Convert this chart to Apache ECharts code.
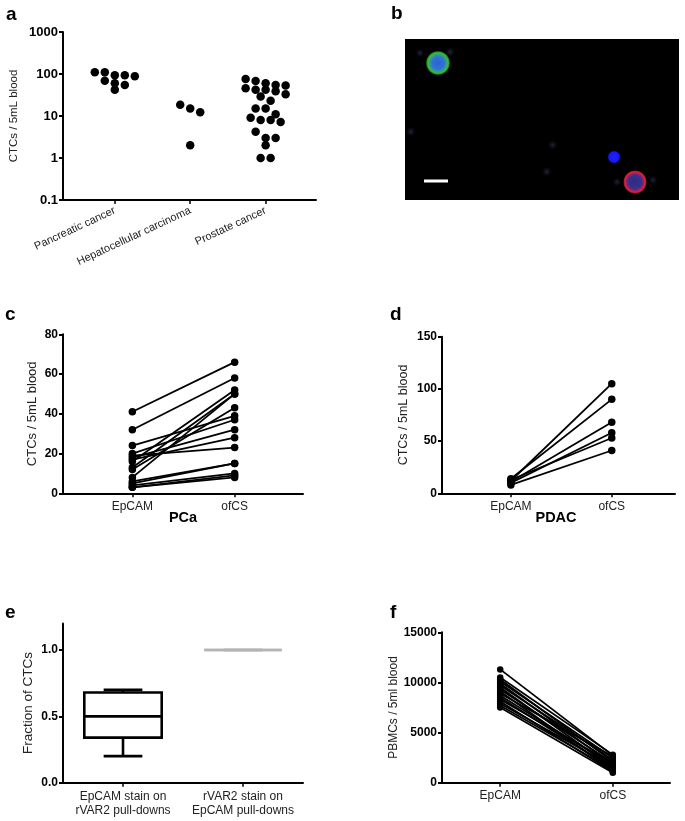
<!DOCTYPE html>
<html><head><meta charset="utf-8">
<script src="https://cdn.jsdelivr.net/npm/echarts@6/dist/echarts.min.js"></script>
<style>html,body{margin:0;padding:0;background:#fff}#main{width:685px;height:821px}</style>
</head><body><div id="main"></div>
<script>
// ---------- Panel a: CTCs per 5 mL blood (log scale) ----------
const aCategories = ['Pancreatic cancer', 'Hepatocellular carcinoma', 'Prostate cancer'];
const aPancreatic = [110, 110, 93, 93, 89, 69, 60, 55, 42];
const aHepatocellular = [18.6, 15, 12.3, 2];
const aProstate = [76, 68, 60, 55, 53, 46, 42, 42, 39, 33, 29, 23, 15, 15, 11, 9.1, 8, 8, 7.2, 4.2, 3, 3, 2, 1, 1];
const aTicks = [0.1, 1, 10, 100, 1000];

// ---------- Panel b: fluorescence image (image units 274 x 161) ----------
const bCells = [[33, 24, 25], [209, 118, 14], [230, 143, 24], [5.7, 92.7, 10], [147.7, 106, 10], [141.7, 132.7, 10], [45, 13, 10], [15, 14, 9], [212, 143, 9], [248, 141, 9]];
const bCellTypes = ['green', 'blue', 'red', 'faint', 'faint', 'faint', 'faint', 'faint', 'faint', 'faint'];
const bScaleBar = [[19, 142], [43, 142]];

// ---------- Panel c: PCa paired ----------
const pairCategories = ['EpCAM', 'ofCS'];
const cEpCAM = [41, 32, 24, 20, 19, 18, 17, 16, 13, 12, 8, 6, 5, 4, 3, 3];
const cOfCS  = [66, 58, 39, 37, 23, 32, 28, 52, 50, 43, 50, 15, 15, 10, 9, 8];
const cTicks = [0, 20, 40, 60, 80];

// ---------- Panel d: PDAC paired ----------
const dEpCAM = [12, 14, 11, 10, 13, 8];
const dOfCS  = [105, 90, 68, 58, 53, 41];
const dTicks = [0, 50, 100, 150];

// ---------- Panel e: box plot ----------
const eCategories = ['EpCAM stain on\nrVAR2 pull-downs', 'rVAR2 stain on\nEpCAM pull-downs'];
const eBoxes = [[0.2, 0.34, 0.5, 0.68, 0.7], [1, 1, 1, 1, 1]];
const eTicks = [0, 0.5, 1];

// ---------- Panel f: PBMCs paired ----------
const fEpCAM = [11300, 10500, 10300, 10100, 9900, 9700, 9500, 9300, 9100, 8900, 8700, 8500, 8300, 8100, 7900, 7700, 7500];
const fOfCS  = [2700, 2800, 2100, 2500, 1800, 2300, 1500, 2000, 1200, 2600, 1700, 1400, 1900, 1100, 1600, 1300, 1000];
const fTicks = [0, 5000, 10000, 15000];

const FONT = 'Liberation Sans, Arial, Helvetica, sans-serif';

function makeYAxis(g, o) {
  return {
    gridIndex: g, type: o.type || 'value', min: o.min, max: o.max, logBase: 10,
    axisLine: {show: true, onZero: false, lineStyle: {color: '#000', width: 2}},
    axisTick: {show: true, length: 4, customValues: o.ticks, lineStyle: {color: '#000', width: 2}},
    splitLine: {show: false}, minorTick: {show: false},
    axisLabel: {show: true, customValues: o.ticks, formatter: o.fmt || (v => String(+(+v).toPrecision(4))),
      color: '#000', fontWeight: 'bold', fontSize: o.fs || 12, margin: 5, fontFamily: FONT},
    name: o.name, nameLocation: 'middle', nameGap: o.gap,
    nameTextStyle: {color: '#222', fontSize: o.nfs || 12, fontFamily: FONT}
  };
}
function makeXAxis(g, o) {
  return {
    gridIndex: g, type: 'value', min: o.min, max: o.max,
    axisLine: {show: true, onZero: false, lineStyle: {color: '#000', width: 2}},
    axisTick: {show: true, length: 4, customValues: o.ticks, lineStyle: {color: '#000', width: 1.5}},
    splitLine: {show: false},
    axisLabel: {show: true, customValues: o.ticks, formatter: v => o.names[Math.round(v)] || '',
      color: '#222', fontSize: o.fs || 12, margin: o.margin || 7, rotate: o.rotate || 0, fontFamily: FONT}
  };
}
function pairSeries(g, ep, of, size, prefix) {
  return ep.map((e, i) => ({
    id: prefix + i, type: 'line', xAxisIndex: g, yAxisIndex: g,
    data: [[0, e], [1, of[i]]], symbol: 'circle', symbolSize: size, showSymbol: true,
    itemStyle: {color: '#000', opacity: 1}, lineStyle: {color: '#000', width: 1.8}, animation: false, silent: true
  }));
}

const cellFill = {
  green: new echarts.graphic.RadialGradient(0.5, 0.5, 0.5, [
    {offset: 0, color: '#2b62d8'}, {offset: 0.5, color: '#2f74d4'}, {offset: 0.68, color: '#3a9a86'},
    {offset: 0.8, color: '#2fc238'}, {offset: 0.9, color: '#1f8f25'}, {offset: 1, color: 'rgba(10,40,10,0)'}]),
  blue: new echarts.graphic.RadialGradient(0.5, 0.5, 0.5, [
    {offset: 0, color: '#2020ff'}, {offset: 0.75, color: '#1818f0'}, {offset: 1, color: 'rgba(0,0,90,0)'}]),
  red: new echarts.graphic.RadialGradient(0.5, 0.5, 0.5, [
    {offset: 0, color: '#2c2c86'}, {offset: 0.55, color: '#39308a'}, {offset: 0.74, color: '#a02060'},
    {offset: 0.84, color: '#e82038'}, {offset: 0.93, color: '#901828'}, {offset: 1, color: 'rgba(60,0,0,0)'}]),
  faint: new echarts.graphic.RadialGradient(0.5, 0.5, 0.5, [
    {offset: 0, color: 'rgba(60,60,95,0.6)'}, {offset: 1, color: 'rgba(30,30,60,0)'}])
};

const dotStyle = {color: '#000', opacity: 1};

const option = {
  animation: false,
  backgroundColor: '#fff',
  textStyle: {fontFamily: FONT},
  grid: [
    {left: 63, top: 32, width: 253, height: 168, outerBoundsMode: 'none'},
    {left: 405, top: 39, width: 274, height: 161, show: true, backgroundColor: '#000', borderWidth: 0, outerBoundsMode: 'none'},
    {left: 63, top: 334.3, width: 240, height: 159, outerBoundsMode: 'none'},
    {left: 442, top: 336.7, width: 233, height: 156.6, outerBoundsMode: 'none'},
    {left: 63, top: 623.5, width: 240, height: 159.2, outerBoundsMode: 'none'},
    {left: 442, top: 632.3, width: 228, height: 150.4, outerBoundsMode: 'none'}
  ],
  xAxis: [
    makeXAxis(0, {min: -0.687, max: 2.668, ticks: [0, 1, 2], names: aCategories, rotate: 25, fs: 11, margin: 10}),
    {gridIndex: 1, type: 'value', min: 0, max: 274, show: false},
    makeXAxis(2, {min: -0.678, max: 1.668, ticks: [0, 1], names: pairCategories}),
    makeXAxis(3, {min: -0.683, max: 1.627, ticks: [0, 1], names: pairCategories}),
    {gridIndex: 4, type: 'category', data: eCategories, boundaryGap: true,
      axisLine: {show: true, onZero: false, lineStyle: {color: '#000', width: 2}},
      axisTick: {show: true, alignWithLabel: true, length: 4, lineStyle: {color: '#000', width: 1.5}},
      axisLabel: {color: '#222', fontSize: 12, margin: 7, lineHeight: 14, fontFamily: FONT, interval: 0}},
    makeXAxis(5, {min: -0.517, max: 1.508, ticks: [0, 1], names: pairCategories})
  ],
  yAxis: [
    makeYAxis(0, {type: 'log', min: 0.1, max: 1000, ticks: aTicks, name: 'CTCs / 5mL blood', gap: 43, fs: 13, nfs: 11.5}),
    {gridIndex: 1, type: 'value', min: 0, max: 161, inverse: true, show: false},
    makeYAxis(2, {min: 0, max: 80, ticks: cTicks, name: 'CTCs / 5mL blood', gap: 24, nfs: 13}),
    makeYAxis(3, {min: 0, max: 150, ticks: dTicks, name: 'CTCs / 5mL blood', gap: 32, nfs: 12.5}),
    makeYAxis(4, {min: 0, max: 1.2, ticks: eTicks, name: 'Fraction of CTCs', gap: 28, nfs: 13.5, fmt: v => (+v).toFixed(1)}),
    makeYAxis(5, {min: 0, max: 15000, ticks: fTicks, name: 'PBMCs / 5ml blood', gap: 40, nfs: 12})
  ],
  graphic: [
    {type: 'text', x: 6, y: 15, style: {text: 'a', font: 'bold 19px ' + FONT, fill: '#000', verticalAlign: 'middle'}},
    {type: 'text', x: 391, y: 13.5, style: {text: 'b', font: 'bold 19px ' + FONT, fill: '#000', verticalAlign: 'middle'}},
    {type: 'text', x: 5, y: 314.5, style: {text: 'c', font: 'bold 19px ' + FONT, fill: '#000', verticalAlign: 'middle'}},
    {type: 'text', x: 390, y: 314.5, style: {text: 'd', font: 'bold 19px ' + FONT, fill: '#000', verticalAlign: 'middle'}},
    {type: 'text', x: 5, y: 612.5, style: {text: 'e', font: 'bold 19px ' + FONT, fill: '#000', verticalAlign: 'middle'}},
    {type: 'text', x: 390, y: 612.5, style: {text: 'f', font: 'bold 19px ' + FONT, fill: '#000', verticalAlign: 'middle'}},
    {type: 'text', x: 183, y: 518, style: {text: 'PCa', font: 'bold 14.5px ' + FONT, fill: '#000', align: 'center', verticalAlign: 'middle'}},
    {type: 'text', x: 556, y: 518, style: {text: 'PDAC', font: 'bold 14.5px ' + FONT, fill: '#000', align: 'center', verticalAlign: 'middle'}}
  ],
  series: [
    {id: 'aPan', type: 'scatter', xAxisIndex: 0, yAxisIndex: 0, symbolSize: 8.5, itemStyle: dotStyle,
      data: aPancreatic.map(v => [0, v])},
    {id: 'aHep', type: 'scatter', xAxisIndex: 0, yAxisIndex: 0, symbolSize: 8.5, itemStyle: dotStyle,
      data: aHepatocellular.map(v => [1, v])},
    {id: 'aPro', type: 'scatter', xAxisIndex: 0, yAxisIndex: 0, symbolSize: 8.5, itemStyle: dotStyle,
      data: aProstate.map(v => [2, v])},
    {id: 'bCells', type: 'custom', xAxisIndex: 1, yAxisIndex: 1, data: bCells, silent: true,
      renderItem: function (params, api) {
        const c = api.coord([api.value(0), api.value(1)]);
        const r = api.size([api.value(2), 0])[0] / 2;
        return {type: 'circle', shape: {cx: c[0], cy: c[1], r: r}, style: {fill: cellFill[bCellTypes[params.dataIndex]]}};
      }},
    {id: 'bBar', type: 'line', xAxisIndex: 1, yAxisIndex: 1, data: bScaleBar, symbol: 'none',
      lineStyle: {color: '#fff', width: 3, cap: 'butt'}, silent: true},
    ...pairSeries(2, cEpCAM, cOfCS, 7.5, 'c'),
    ...pairSeries(3, dEpCAM, dOfCS, 7.5, 'd'),
    {id: 'eBox', type: 'custom', xAxisIndex: 4, yAxisIndex: 4,
      data: eBoxes.map((b, i) => [i].concat(b)),
      renderItem: function (params, api) {
        const x = api.value(0);
        const mn = api.coord([x, api.value(1)]), q1 = api.coord([x, api.value(2)]), md = api.coord([x, api.value(3)]);
        const q3 = api.coord([x, api.value(4)]), mx = api.coord([x, api.value(5)]);
        const bw = api.size([1, 0])[0] * 0.645;
        const cx = md[0];
        const color = params.dataIndex === 1 ? '#b4b4b4' : '#000';
        const st = {stroke: color, lineWidth: 2.6, fill: null};
        return {type: 'group', children: [
          {type: 'line', shape: {x1: cx, y1: mn[1], x2: cx, y2: q1[1]}, style: st},
          {type: 'line', shape: {x1: cx, y1: q3[1], x2: cx, y2: mx[1]}, style: st},
          {type: 'line', shape: {x1: cx - bw / 4, y1: mn[1], x2: cx + bw / 4, y2: mn[1]}, style: st},
          {type: 'line', shape: {x1: cx - bw / 4, y1: mx[1], x2: cx + bw / 4, y2: mx[1]}, style: st},
          {type: 'rect', shape: {x: cx - bw / 2, y: q3[1], width: bw, height: q1[1] - q3[1]}, style: st},
          {type: 'line', shape: {x1: cx - bw / 2, y1: md[1], x2: cx + bw / 2, y2: md[1]}, style: st}
        ]};
      }},
    ...pairSeries(5, fEpCAM, fOfCS, 6.5, 'f')
  ]
};

const chart = echarts.init(document.getElementById('main'), null, {renderer: 'canvas', width: 685, height: 821});
chart.setOption(option);

// Beeswarm layout: dots grouped in rows by pixel height, spread symmetrically around category.
function rowOffsets(ys, rowH, spacing) {
  const idx = ys.map((_, i) => i).sort((i, j) => ys[i] - ys[j]);
  const offs = new Array(ys.length).fill(0);
  let row = [], start = null;
  const flush = () => row.forEach((k, n) => { offs[k] = (n - (row.length - 1) / 2) * spacing; });
  idx.forEach(i => {
    if (start === null || ys[i] - start > rowH) { flush(); row = []; start = ys[i]; }
    row.push(i);
  });
  flush();
  return offs;
}
function swarm(xPos, values) {
  const ys = values.map(v => chart.convertToPixel({gridIndex: 0}, [xPos, v])[1]);
  const offs = rowOffsets(ys, 8, 10);
  return values.map((v, i) => ({value: [xPos, v], symbolOffset: [offs[i], 0]}));
}
chart.setOption({series: [
  {id: 'aPan', data: swarm(0, aPancreatic)},
  {id: 'aHep', data: swarm(1, aHepatocellular)},
  {id: 'aPro', data: swarm(2, aProstate)}
]});
</script></body></html>
